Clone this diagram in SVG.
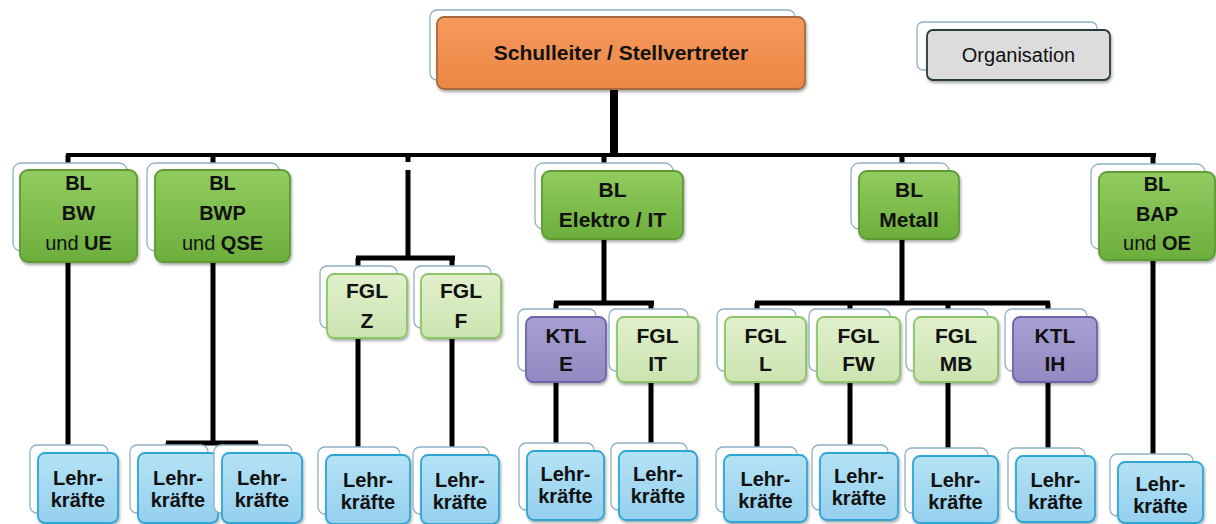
<svg xmlns="http://www.w3.org/2000/svg" width="1216" height="524" viewBox="0 0 1216 524">
<defs>
<linearGradient id="gOr" x1="0" y1="0" x2="0" y2="1"><stop offset="0" stop-color="#f59a5c"/><stop offset="1" stop-color="#ec8645"/></linearGradient>
<linearGradient id="gGr" x1="0" y1="0" x2="0" y2="1"><stop offset="0" stop-color="#92cc60"/><stop offset="1" stop-color="#6cae3c"/></linearGradient>
<linearGradient id="gLg" x1="0" y1="0" x2="0" y2="1"><stop offset="0" stop-color="#e0f0cc"/><stop offset="1" stop-color="#cbe4b0"/></linearGradient>
<linearGradient id="gPu" x1="0" y1="0" x2="0" y2="1"><stop offset="0" stop-color="#a79fd2"/><stop offset="1" stop-color="#9489c3"/></linearGradient>
<linearGradient id="gBl" x1="0" y1="0" x2="0" y2="1"><stop offset="0" stop-color="#b4e2f5"/><stop offset="1" stop-color="#95d0ee"/></linearGradient>
<filter id="sh" x="-10%" y="-10%" width="125%" height="130%"><feDropShadow dx="1" dy="2" stdDeviation="1.5" flood-color="#000" flood-opacity="0.35"/></filter>
</defs>
<style>
.back{fill:#fff;stroke:#8fb0c4;stroke-width:1.3}
.f{filter:url(#sh);stroke-width:1.8}
.sl{fill:url(#gOr);stroke:#a8693c}
.bl{fill:url(#gGr);stroke:#5f9a36}
.fgl{fill:url(#gLg);stroke:#8cc46a}
.ktl{fill:url(#gPu);stroke:#6f64aa}
.lk{fill:url(#gBl);stroke:#2fa6d3}
.org{fill:#dcdcdc;stroke:#2a3a40}
text{font-family:"Liberation Sans",Arial,sans-serif;font-weight:bold;fill:#111;text-anchor:middle}
.t20{font-size:20px}
.t21{font-size:21px}
.t19{font-size:20px}
.n{font-weight:normal}
#conn line{stroke:#000;stroke-width:5}
</style>
<rect width="1216" height="524" fill="#fff"/>
<g id="conn">
<line x1="614" y1="89" x2="614" y2="155" style="stroke-width:8"/>
<line x1="66" y1="155" x2="1156" y2="155" style="stroke-width:4"/>
<line x1="68" y1="155" x2="68" y2="170"/>
<line x1="213" y1="155" x2="213" y2="170"/>
<line x1="604" y1="155" x2="604" y2="171"/>
<line x1="902" y1="155" x2="902" y2="171"/>
<line x1="1153" y1="155" x2="1153" y2="172"/>
<line x1="68" y1="262" x2="68" y2="453"/>
<line x1="213" y1="262" x2="213" y2="443"/>
<line x1="166" y1="443" x2="258" y2="443"/>
<line x1="168" y1="443" x2="168" y2="453"/>
<line x1="256" y1="443" x2="256" y2="453"/>
<line x1="408" y1="155" x2="408" y2="162"/>
<line x1="408" y1="170" x2="408" y2="258"/>
<line x1="356" y1="258" x2="455" y2="258"/>
<line x1="358" y1="258" x2="358" y2="274"/>
<line x1="452" y1="258" x2="452" y2="274"/>
<line x1="358" y1="338" x2="358" y2="455"/>
<line x1="452" y1="338" x2="452" y2="455"/>
<line x1="604" y1="239" x2="604" y2="303"/>
<line x1="554" y1="303" x2="654" y2="303"/>
<line x1="556" y1="303" x2="556" y2="317"/>
<line x1="651" y1="303" x2="651" y2="317"/>
<line x1="556" y1="382" x2="556" y2="451"/>
<line x1="651" y1="382" x2="651" y2="451"/>
<line x1="902" y1="239" x2="902" y2="303"/>
<line x1="755" y1="303" x2="1050" y2="303"/>
<line x1="757" y1="303" x2="757" y2="317"/>
<line x1="850" y1="303" x2="850" y2="317"/>
<line x1="948" y1="303" x2="948" y2="317"/>
<line x1="1048" y1="303" x2="1048" y2="317"/>
<line x1="757" y1="382" x2="757" y2="455"/>
<line x1="850" y1="382" x2="850" y2="453"/>
<line x1="948" y1="382" x2="948" y2="456"/>
<line x1="1048" y1="382" x2="1048" y2="456"/>
<line x1="1153" y1="260" x2="1153" y2="462"/>
</g>
<g id="n-schulleiter"><rect class="back" x="430" y="10" width="365" height="70" rx="7"/><rect class="f sl" x="437" y="17" width="368" height="72" rx="7"/><text x="621" y="60" style="font-size:21px">Schulleiter / Stellvertreter</text></g>
<g id="n-organisation"><rect class="back" x="917" y="22" width="180" height="48" rx="6"/><rect class="f org" x="927" y="30" width="183" height="50" rx="6"/><text class="n" x="1018.5" y="62" style="font-size:20px">Organisation</text></g>
<g id="n-bw"><rect class="back" x="13" y="163" width="114" height="88" rx="8"/><rect class="f bl" x="20" y="170" width="117" height="92" rx="8"/><text class="t20" x="78.5" y="190">BL</text><text class="t20" x="78.5" y="220">BW</text><text class="t20" x="78.5" y="250"><tspan class="n">und</tspan> UE</text></g>
<g id="n-bwp"><rect class="back" x="147" y="163" width="132" height="88" rx="8"/><rect class="f bl" x="155" y="170" width="135" height="92" rx="8"/><text class="t20" x="222.5" y="190">BL</text><text class="t20" x="222.5" y="220">BWP</text><text class="t20" x="222.5" y="250"><tspan class="n">und</tspan> QSE</text></g>
<g id="n-elektro"><rect class="back" x="535" y="163" width="138" height="66" rx="8"/><rect class="f bl" x="542" y="171" width="141" height="68" rx="8"/><text class="t21" x="612.5" y="197">BL</text><text class="t21" x="612.5" y="227">Elektro / IT</text></g>
<g id="n-metall"><rect class="back" x="851" y="163" width="98" height="66" rx="8"/><rect class="f bl" x="859" y="171" width="100" height="68" rx="8"/><text class="t21" x="909" y="197">BL</text><text class="t21" x="909" y="227">Metall</text></g>
<g id="n-bap"><rect class="back" x="1091" y="164" width="114" height="85" rx="8"/><rect class="f bl" x="1099" y="172" width="116" height="88" rx="8"/><text class="t20" x="1157" y="191">BL</text><text class="t20" x="1157" y="221">BAP</text><text class="t20" x="1157" y="250"><tspan class="n">und</tspan> OE</text></g>
<g id="n-fgl-z"><rect class="back" x="320" y="266" width="77" height="62" rx="7"/><rect class="f fgl" x="327" y="274" width="80" height="64" rx="7"/><text class="t21" x="367" y="298">FGL</text><text class="t21" x="367" y="328">Z</text></g>
<g id="n-fgl-f"><rect class="back" x="414" y="266" width="77" height="62" rx="7"/><rect class="f fgl" x="421" y="274" width="80" height="64" rx="7"/><text class="t21" x="461" y="298">FGL</text><text class="t21" x="461" y="328">F</text></g>
<g id="n-ktl-e"><rect class="back" x="518" y="309" width="78" height="62" rx="7"/><rect class="f ktl" x="526" y="317" width="80" height="65" rx="7"/><text class="t21" x="566" y="343">KTL</text><text class="t21" x="566" y="371">E</text></g>
<g id="n-fgl-it"><rect class="back" x="609" y="309" width="79" height="62" rx="7"/><rect class="f fgl" x="617" y="317" width="81" height="65" rx="7"/><text class="t21" x="657.5" y="343">FGL</text><text class="t21" x="657.5" y="371">IT</text></g>
<g id="n-fgl-l"><rect class="back" x="717" y="309" width="79" height="62" rx="7"/><rect class="f fgl" x="725" y="317" width="81" height="65" rx="7"/><text class="t21" x="765.5" y="343">FGL</text><text class="t21" x="765.5" y="371">L</text></g>
<g id="n-fgl-fw"><rect class="back" x="809" y="309" width="81" height="62" rx="7"/><rect class="f fgl" x="817" y="317" width="83" height="65" rx="7"/><text class="t21" x="858.5" y="343">FGL</text><text class="t21" x="858.5" y="371">FW</text></g>
<g id="n-fgl-mb"><rect class="back" x="906" y="309" width="82" height="62" rx="7"/><rect class="f fgl" x="914" y="317" width="84" height="65" rx="7"/><text class="t21" x="956" y="343">FGL</text><text class="t21" x="956" y="371">MB</text></g>
<g id="n-ktl-ih"><rect class="back" x="1005" y="309" width="82" height="62" rx="7"/><rect class="f ktl" x="1013" y="317" width="84" height="65" rx="7"/><text class="t21" x="1055" y="343">KTL</text><text class="t21" x="1055" y="371">IH</text></g>
<g id="n-lk1"><rect class="back" x="30" y="445" width="78" height="68" rx="7"/><rect class="f lk" x="38" y="453" width="80" height="70" rx="7"/><text class="t19" x="78" y="485">Lehr-</text><text class="t19" x="78" y="507">kräfte</text></g>
<g id="n-lk2"><rect class="back" x="130" y="445" width="78" height="68" rx="7"/><rect class="f lk" x="138" y="453" width="80" height="70" rx="7"/><text class="t19" x="178" y="485">Lehr-</text><text class="t19" x="178" y="507">kräfte</text></g>
<g id="n-lk3"><rect class="back" x="214" y="445" width="78" height="68" rx="7"/><rect class="f lk" x="222" y="453" width="80" height="70" rx="7"/><text class="t19" x="262" y="485">Lehr-</text><text class="t19" x="262" y="507">kräfte</text></g>
<g id="n-lk4"><rect class="back" x="318" y="447" width="82" height="67" rx="7"/><rect class="f lk" x="326" y="455" width="84" height="69" rx="7"/><text class="t19" x="368" y="487">Lehr-</text><text class="t19" x="368" y="509">kräfte</text></g>
<g id="n-lk5"><rect class="back" x="413" y="447" width="76" height="67" rx="7"/><rect class="f lk" x="421" y="455" width="78" height="69" rx="7"/><text class="t19" x="460" y="487">Lehr-</text><text class="t19" x="460" y="509">kräfte</text></g>
<g id="n-lk6"><rect class="back" x="519" y="443" width="75" height="67" rx="7"/><rect class="f lk" x="527" y="451" width="77" height="69" rx="7"/><text class="t19" x="565.5" y="481">Lehr-</text><text class="t19" x="565.5" y="503">kräfte</text></g>
<g id="n-lk7"><rect class="back" x="611" y="443" width="76" height="67" rx="7"/><rect class="f lk" x="619" y="451" width="78" height="69" rx="7"/><text class="t19" x="658" y="481">Lehr-</text><text class="t19" x="658" y="503">kräfte</text></g>
<g id="n-lk8"><rect class="back" x="716" y="447" width="81" height="65" rx="7"/><rect class="f lk" x="724" y="455" width="83" height="67" rx="7"/><text class="t19" x="765.5" y="486">Lehr-</text><text class="t19" x="765.5" y="508">kräfte</text></g>
<g id="n-lk9"><rect class="back" x="812" y="445" width="76" height="65" rx="7"/><rect class="f lk" x="820" y="453" width="78" height="67" rx="7"/><text class="t19" x="859" y="483">Lehr-</text><text class="t19" x="859" y="505">kräfte</text></g>
<g id="n-lk10"><rect class="back" x="905" y="448" width="83" height="65" rx="7"/><rect class="f lk" x="913" y="456" width="85" height="67" rx="7"/><text class="t19" x="955.5" y="487">Lehr-</text><text class="t19" x="955.5" y="509">kräfte</text></g>
<g id="n-lk11"><rect class="back" x="1008" y="448" width="77" height="64" rx="7"/><rect class="f lk" x="1016" y="456" width="79" height="66" rx="7"/><text class="t19" x="1055.5" y="487">Lehr-</text><text class="t19" x="1055.5" y="509">kräfte</text></g>
<g id="n-lk12"><rect class="back" x="1110" y="454" width="83" height="62" rx="7"/><rect class="f lk" x="1118" y="462" width="85" height="61" rx="7"/><text class="t19" x="1160.5" y="491">Lehr-</text><text class="t19" x="1160.5" y="513">kräfte</text></g>
</svg>
